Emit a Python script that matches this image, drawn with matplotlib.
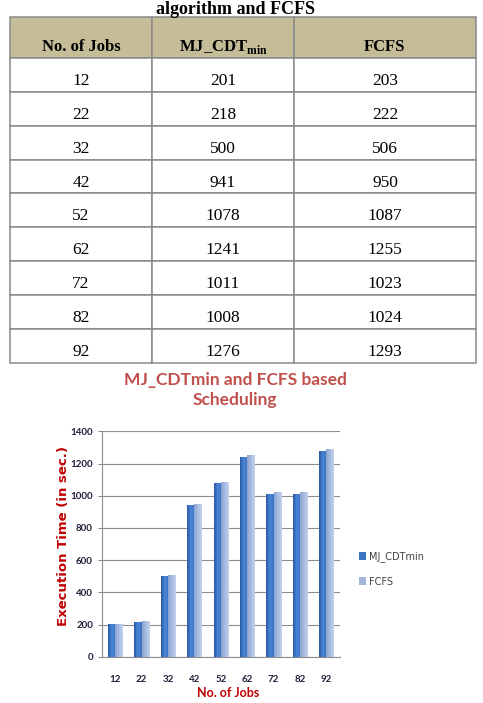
import matplotlib.pyplot as plt
import matplotlib.transforms as mtransforms
from matplotlib.colors import LinearSegmentedColormap
import numpy as np

jobs = [12, 22, 32, 42, 52, 62, 72, 82, 92]
mj_cdt = [201, 218, 500, 941, 1078, 1241, 1011, 1008, 1276]
fcfs = [203, 222, 506, 950, 1087, 1255, 1023, 1024, 1293]

col_labels = ["No. of Jobs", "MJ_CDT$_{\\mathregular{min}}$", "FCFS"]
y_ticks = [0, 200, 400, 600, 800, 1000, 1200, 1400]

W, H = 483, 703
fig = plt.figure(figsize=(W / 100, H / 100), dpi=100)


def px_axes(x0, y0, x1, y1):
    # pixel box (top-left origin) -> figure axes
    return fig.add_axes([x0 / W, 1 - y1 / H, (x1 - x0) / W, (y1 - y0) / H])


# ---- table ----
serif = ["Liberation Serif", "DejaVu Serif"]
fig.text(236 / W, 1 - 9 / H, "algorithm and FCFS", ha="center", va="center",
         fontsize=13, fontweight="bold", family=serif)

tax = px_axes(10, 17, 476, 363)
tax.axis("off")
cells = [[str(j), str(a), str(b)] for j, a, b in zip(jobs, mj_cdt, fcfs)]
tbl = tax.table(cellText=cells, colLabels=col_labels, bbox=[0, 0, 1, 1],
                colWidths=[142, 142, 182], cellLoc="center")
tbl.auto_set_font_size(False)
for (r, c), cell in tbl.get_celld().items():
    cell.set_edgecolor("#8a8a8a")
    cell.set_linewidth(1.1)
    cell.set_height(41 if r == 0 else 34)
    txt = cell.get_text()
    txt.set_fontfamily(serif)
    if r == 0:
        cell.set_facecolor("#c4bd97")
        txt.set_fontweight("bold")
        txt.set_fontsize(12)
        # header text sits low in the cell
        txt.set_transform(mtransforms.Affine2D().translate(0, -10))
    else:
        cell.set_facecolor("white")
        txt.set_fontsize(12.5)
        txt.set_transform(mtransforms.Affine2D().translate(0, -6))

# ---- chart ----
sans = ["Lato", "DejaVu Sans"]
fig.text(235 / W, 1 - 390 / H, "MJ_CDTmin and FCFS based\nScheduling", ha="center",
         va="center", fontsize=12.5, fontweight="bold", color="#c0504d",
         family=sans, linespacing=1.3)

ax = px_axes(102, 431.3, 339.5, 656.7)
x = np.arange(len(jobs))
w = 0.27
b1 = ax.bar(x - w / 2, mj_cdt, w, color="#3b73c6", label="MJ_CDTmin", zorder=3)
b2 = ax.bar(x + w / 2, fcfs, w, color="#a2b6dd", label="FCFS", zorder=3)
ax.set_xlim(-0.5, len(jobs) - 0.5)
ax.set_ylim(0, 1400)

# horizontal shading on each bar, like the original
shades = [
    (b1, LinearSegmentedColormap.from_list("d", ["#2a5aa2", "#4b86d8", "#3a70c0"])),
    (b2, LinearSegmentedColormap.from_list("l", ["#8da4d0", "#a8bce2", "#c3d1eb"])),
]
grad = np.linspace(0, 1, 32).reshape(1, -1)
for bars, cmap in shades:
    for bar in bars:
        x0, y0 = bar.get_x(), bar.get_y()
        im = ax.imshow(grad, cmap=cmap, aspect="auto", zorder=4,
                       extent=[x0, x0 + bar.get_width(), y0, y0 + bar.get_height()])
        im.set_clip_path(bar)
ax.set_xlim(-0.5, len(jobs) - 0.5)
ax.set_ylim(0, 1400)

ax.set_yticks(y_ticks)
ax.set_xticks(x)
ax.set_xticklabels([str(j) for j in jobs])
ax.yaxis.grid(True, color="#8c8c8c", linewidth=0.8, zorder=0)
for s in ["top", "right"]:
    ax.spines[s].set_visible(False)
for s in ["left", "bottom"]:
    ax.spines[s].set_color("#8c8c8c")
ax.tick_params(axis="both", length=3, color="#8c8c8c", labelsize=7,
               labelcolor="#1f1f3a")
ax.tick_params(axis="x", length=0, pad=13)
for lbl in ax.get_xticklabels() + ax.get_yticklabels():
    lbl.set_fontweight("bold")
    lbl.set_family(sans)
ax.set_xlabel("No. of Jobs", fontsize=9, fontweight="bold", color="#c00000",
              family=sans)
ax.xaxis.set_label_coords(0.53, -0.135)
ax.set_ylabel("Execution Time (in sec.)", fontsize=9.5, fontweight="bold",
              color="#c00000", family="DejaVu Sans")
ax.yaxis.set_label_coords(-0.135, 0.535)

fig.legend(handles=[b1, b2], loc="center left", bbox_to_anchor=(350 / W, 1 - 569 / H),
           frameon=False, fontsize=7, handlelength=0.7, handleheight=0.9,
           handletextpad=0.4, labelspacing=1.5, labelcolor="#404040")

fig.savefig("out.png", dpi=100)
